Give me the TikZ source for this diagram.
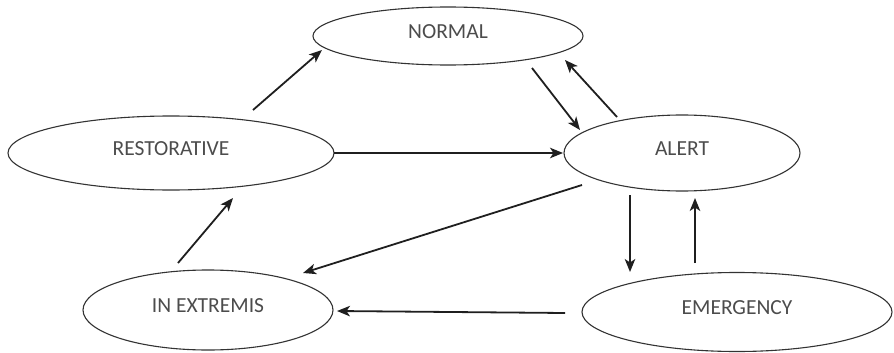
\documentclass[tikz,border=0pt]{standalone}
\usepackage{fontspec}
\setmainfont{Carlito}
\usetikzlibrary{shapes.geometric,arrows.meta}
\tikzset{
  state/.style={ellipse, draw=black!80, line width=1.1pt, inner sep=0pt,
    font=\fontsize{21.5}{23}\selectfont, text=black!70, text height=14pt, text depth=9.5pt},
  arr/.style={line width=1.8pt, draw=black!88, -{Stealth[length=13pt,width=10.5pt,inset=3.5pt]}}
}
\begin{document}
\begin{tikzpicture}[x=1pt,y=-1pt]
\useasboundingbox (0,0) rectangle (894,353);
\node[state, minimum width=270pt, minimum height=58pt] (N) at (448,36) {NORMAL};
\node[state, minimum width=326pt, minimum height=74pt] (R) at (171,153) {RESTORATIVE};
\node[state, minimum width=236pt, minimum height=76pt] (A) at (682,153) {ALERT};
\node[state, minimum width=310pt, minimum height=79pt] (E) at (737,312) {EMERGENCY};
\node[state, minimum width=250pt, minimum height=80pt] (X) at (208,310) {IN EXTREMIS};
\draw[arr] ([shift={(82,-43)}]R.center) -- ([shift={(-126,14)}]N.center);
\draw[arr] ([shift={(84,32)}]N.center) -- ([shift={(-102,-23)}]A.center);
\draw[arr] ([shift={(-65,-36)}]A.center) -- ([shift={(117,24)}]N.center);
\draw[arr] ([shift={(163,0)}]R.center) -- ([shift={(-119,0)}]A.center);
\draw[arr] ([shift={(-100,32)}]A.center) -- ([shift={(95,-37)}]X.center);
\draw[arr] ([shift={(-52,42)}]A.center) -- ([shift={(-107,-40)}]E.center);
\draw[arr] ([shift={(-42,-49)}]E.center) -- ([shift={(13,45)}]A.center);
\draw[arr] ([shift={(-172,1)}]E.center) -- ([shift={(129,1)}]X.center);
\draw[arr] ([shift={(-30,-47)}]X.center) -- ([shift={(62,45)}]R.center);
\end{tikzpicture}
\end{document}
